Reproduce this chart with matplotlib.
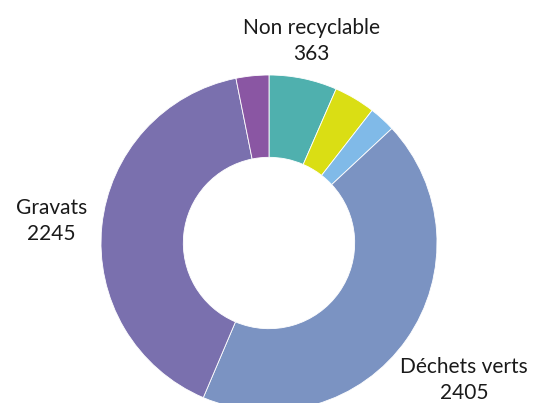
import numpy as np
import matplotlib.pyplot as plt

plt.rcParams['font.family'] = ['Lato', 'DejaVu Sans']

# data
categories = ["Non recyclable", "Verre", "Papier", "Déchets verts", "Gravats", "Autres"]
values = [363, 221, 141, 2405, 2245, 175]
show_label = [True, False, False, True, True, False]
colors = ["#4FB0AE", "#DADE14", "#80BAE8", "#7B93C2", "#7A70AE", "#8A56A3"]

fig = plt.figure(figsize=(5.37, 4.03), dpi=100)
W, H = 537, 403
cx, cy, R = 269, 243, 168
ax = fig.add_axes([(cx - R) / W, (H - cy - R) / H, 2 * R / W, 2 * R / H])
ax.set_xlim(-1, 1)
ax.set_ylim(-1, 1)

wedges, _ = ax.pie(values, colors=colors, startangle=90, counterclock=False,
                   radius=1, wedgeprops=dict(width=0.49, edgecolor="white", linewidth=0.6),
                   frame=True)
ax.set_axis_off()

# label distance per labelled slice
dist = {0: 1.23, 3: 1.42, 4: 1.30}
for i, w in enumerate(wedges):
    if not show_label[i]:
        continue
    ang = np.deg2rad((w.theta1 + w.theta2) / 2)
    d = dist[i]
    ax.text(d * np.cos(ang), d * np.sin(ang), f"{categories[i]}\n{values[i]}",
            ha="center", va="center", ma="center", fontsize=15,
            color="#1a1a1a", linespacing=1.4, clip_on=False)

fig.savefig("out.png", dpi=100)
